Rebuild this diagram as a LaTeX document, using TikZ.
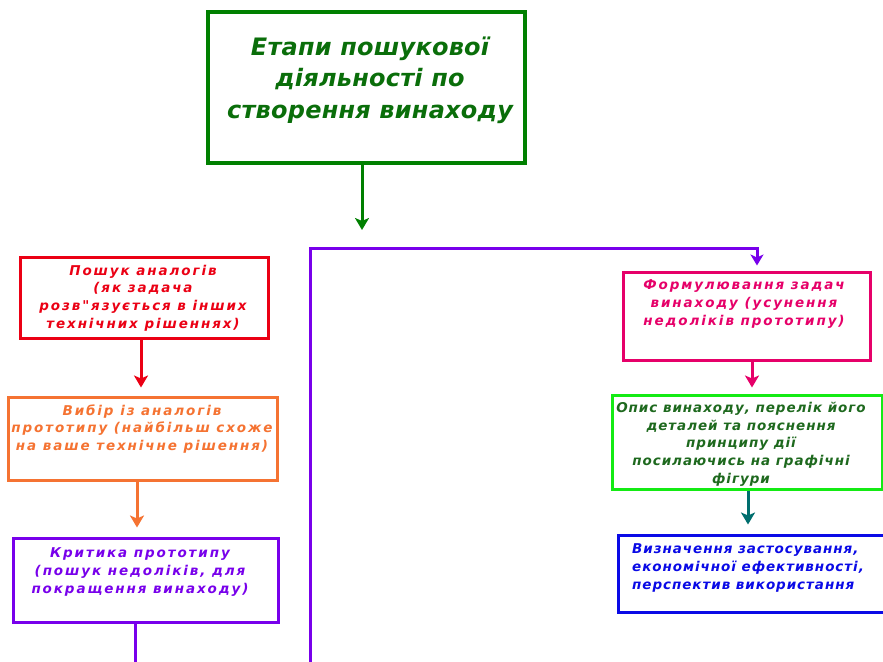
\documentclass[tikz,border=0pt]{standalone}
\usepackage{fontspec}
\setmainfont{DejaVu Sans}
\newfontfamily\dfont{DejaVu Sans}[LetterSpace=14]
\newfontfamily\efont{DejaVu Sans}[LetterSpace=7]
\newfontfamily\tfont{DejaVu Sans}[LetterSpace=1]
\usetikzlibrary{arrows.meta,calc}
\definecolor{tgreen}{RGB}{0,128,0}
\definecolor{tgreentxt}{RGB}{10,110,10}
\definecolor{cred}{RGB}{235,0,20}
\definecolor{corange}{RGB}{245,115,50}
\definecolor{cpurple}{RGB}{120,0,235}
\definecolor{cmag}{RGB}{230,0,105}
\definecolor{cbright}{RGB}{20,235,20}
\definecolor{cgtxt}{RGB}{30,105,30}
\definecolor{cteal}{RGB}{0,110,110}
\definecolor{cblue}{RGB}{10,10,230}
\tikzset{
  box/.style={draw=#1,line width=3pt,rectangle,inner sep=0pt},
  txt/.style={text=#1,align=center,inner sep=0pt,font=\dfont\bfseries\itshape\fontsize{13.5}{17.7}\selectfont},
  txtn/.style={text=#1,align=center,inner sep=0pt,font=\efont\bfseries\itshape\fontsize{13.5}{17.7}\selectfont},
  ttl/.style={text=#1,align=center,inner sep=0pt,font=\tfont\bfseries\itshape\fontsize{24}{31.5}\selectfont},
  arr/.style={draw=#1,line width=3pt,-{Stealth[length=12pt,width=14pt,inset=3pt]}},
  ln/.style={draw=#1,line width=3pt}
}
\begin{document}
\begin{tikzpicture}[x=1pt,y=-1pt]
\useasboundingbox (0,0) rectangle (883,661);
\fill[white] (0,0) rectangle (883,661);
\clip (0,0) rectangle (883,661);
% boxes
\node[box=tgreen,line width=3.5pt,minimum width=317pt,minimum height=151pt] (title) at (366.5,87.5) {};
\node[box=cred,minimum width=248pt,minimum height=81pt] (r1) at (144,297.5) {};
\node[box=corange,minimum width=269pt,minimum height=83pt] (o1) at (142.5,438.5) {};
\node[box=cpurple,minimum width=265pt,minimum height=84pt] (p1) at (145.5,580) {};
\node[box=cmag,minimum width=247pt,minimum height=88pt] (m1) at (746.5,316) {};
\node[box=cbright,minimum width=270pt,minimum height=94pt] (g1) at (747,442) {};
\node[box=cblue,minimum width=277pt,minimum height=77pt] (b1) at (756.5,573.5) {};
% texts
\node[ttl=tgreentxt] (titlet) at (370,80) {Етапи пошукової\\діяльності по\\створення винаходу};
\node[txt=cred] (r1t) at (143,298) {Пошук аналогів\\(як задача\\розв"язується в інших\\технічних рішеннях)};
\node[txt=corange] (o1t) at (142,429) {Вибір із аналогів\\прототипу (найбільш схоже\\на ваше технічне рішення)};
\node[txt=cpurple] (p1t) at (140,572) {Критика прототипу\\(пошук недоліків, для\\покращення винаходу)};
\node[txt=cmag] (m1t) at (744,304) {Формулювання задач\\винаходу (усунення\\недоліків прототипу)};
\node[txtn=cgtxt] (g1t) at (741,444) {Опис винаходу, перелік його\\деталей та пояснення\\принципу дії\\посилаючись на графічні\\фігури};
\node[txtn=cblue,align=left,anchor=west] (b1t) at (632,568) {Визначення застосування,\\економічної ефективності,\\перспектив використання};
% free ends
\coordinate (tend) at (362,230);
\coordinate (pbot) at (135,665);
\coordinate (lbot) at (310,665);
\coordinate (ltop) at (310,248);
\coordinate (rtop) at (757,248);
% connectors
\draw[arr=tgreen] ($(title.south)+(-4.5,0)$) -- (tend);
\draw[arr=cred] ($(r1.south)+(-3,0)$) -- ($(o1.north)+(-1.5,-8)$);
\draw[arr=corange] ($(o1.south)+(-5.5,0)$) -- ($(p1.north)+(-8.5,-9)$);
\draw[ln=cpurple] ($(p1.south)+(-10.5,0)$) -- (pbot);
\draw[draw=cpurple,line width=3pt,-{Stealth[length=11pt,width=13pt,inset=3pt]}] (lbot) -- (ltop) -- (rtop) -- ($(m1.north)+(10.5,-5)$);
\draw[arr=cmag] ($(m1.south)+(5.5,0)$) -- ($(g1.north)+(5,-6)$);
\draw[arr=cteal] ($(g1.south)+(1,0)$) -- ($(b1.north)+(-8.5,-9)$);
\end{tikzpicture}
\end{document}
